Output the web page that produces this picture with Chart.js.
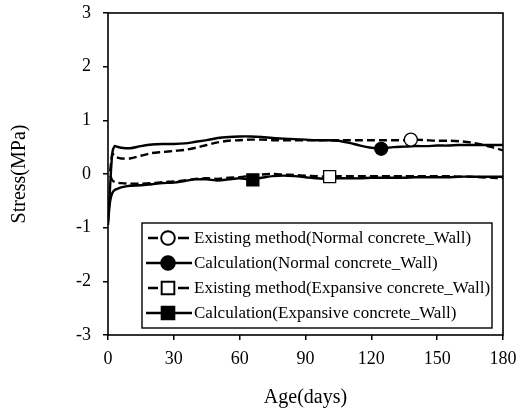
<!DOCTYPE html>
<html>
<head>
<meta charset="utf-8">
<script src="https://cdn.jsdelivr.net/npm/chart.js@4/dist/chart.umd.min.js"></script>
<style>
html,body{margin:0;padding:0;background:#fff;}
#wrap{width:520px;height:410px;}
</style>
</head>
<body>
<div id="wrap"><canvas id="c" width="520" height="410"></canvas></div>
<script>
const days = [0,1,2,3,4,6,10,15,20,25,30,35,40,45,50,55,60,65,70,75,80,85,90,95,100,105,110,115,120,125,130,135,140,145,150,155,160,165,170,175,180];
const normalCalc = [-0.95,-0.2,0.40,0.52,0.51,0.49,0.48,0.52,0.55,0.56,0.56,0.57,0.60,0.63,0.67,0.69,0.70,0.70,0.69,0.67,0.66,0.65,0.64,0.63,0.63,0.62,0.58,0.53,0.49,0.48,0.50,0.51,0.52,0.52,0.53,0.53,0.54,0.54,0.54,0.54,0.54];
const normalExisting = [null,0.05,0.38,0.33,0.31,0.29,0.29,0.34,0.39,0.41,0.43,0.45,0.49,0.54,0.59,0.62,0.63,0.64,0.64,0.63,0.63,0.63,0.63,0.63,0.63,0.63,0.63,0.63,0.63,0.63,0.63,0.63,0.64,0.63,0.62,0.62,0.61,0.59,0.55,0.50,0.44];
const expansiveCalc = [-0.90,-0.5,-0.35,-0.30,-0.28,-0.25,-0.22,-0.21,-0.19,-0.17,-0.16,-0.13,-0.10,-0.10,-0.12,-0.10,-0.08,-0.10,-0.07,-0.04,-0.03,-0.04,-0.06,-0.08,-0.09,-0.08,-0.08,-0.08,-0.07,-0.07,-0.07,-0.07,-0.06,-0.06,-0.06,-0.06,-0.05,-0.05,-0.05,-0.05,-0.05];
const expansiveExisting = [null,-0.03,-0.12,-0.15,-0.16,-0.17,-0.18,-0.18,-0.17,-0.15,-0.14,-0.12,-0.09,-0.08,-0.09,-0.07,-0.06,-0.03,-0.01,0.00,-0.01,-0.02,-0.03,-0.04,-0.05,-0.04,-0.04,-0.04,-0.04,-0.04,-0.04,-0.04,-0.04,-0.04,-0.04,-0.04,-0.05,-0.05,-0.06,-0.07,-0.08];
const markerDays = [138, 124.5, 101, 66];
const markerVals = [0.64, 0.47, -0.05, -0.11];
const seriesNames = ['Existing method(Normal concrete_Wall)','Calculation(Normal concrete_Wall)','Existing method(Expansive concrete_Wall)','Calculation(Expansive concrete_Wall)'];
const xTicks = [0,30,60,90,120,150,180];
const yTicks = [-3,-2,-1,0,1,2,3];

const seriesVals = [normalExisting, normalCalc, expansiveExisting, expansiveCalc];
const dashed = [true,false,true,false];
const mStyle = ['circle','circle','rect','rect'];
const mFill = ['#ffffff','#000000','#ffffff','#000000'];
const mRadius = [6.5,6.5,8.5,8.5];

const datasets = [];
seriesVals.forEach((vals,i)=>{
  datasets.push({
    label: seriesNames[i],
    data: days.map((d,j)=>({x:d,y:vals[j]})).filter(p=>p.y!==null),
    borderColor:'#000', borderWidth:2.4, borderDash: dashed[i]?[8,4]:[],
    pointRadius:0, tension:0.3, fill:false, order:2
  });
});
markerDays.forEach((d,i)=>{
  datasets.push({
    label: seriesNames[i]+' marker', type:'scatter',
    data:[{x:d,y:markerVals[i]}],
    pointStyle:mStyle[i], pointRadius:mRadius[i], pointBackgroundColor:mFill[i],
    pointBorderColor:'#000', pointBorderWidth:1.3, showLine:false, order:1
  });
});

const frame = {
  id:'frame',
  afterDatasetsDraw(chart){
    const {ctx, chartArea:a} = chart;
    ctx.save();
    ctx.strokeStyle='#000'; ctx.lineWidth=1.6;
    ctx.strokeRect(a.left, a.top, a.right-a.left, a.bottom-a.top);
    ctx.restore();
  }
};

const legendBox = {
  id:'legendBox',
  afterDraw(chart){
    const ctx = chart.ctx;
    const bx=142, by=223, bw=350, bh=105;
    ctx.save();
    ctx.fillStyle='#fff'; ctx.fillRect(bx,by,bw,bh);
    ctx.strokeStyle='#000'; ctx.lineWidth=1.4; ctx.strokeRect(bx,by,bw,bh);
    ctx.font='17px "Liberation Serif"';
    ctx.textBaseline='middle';
    for(let i=0;i<4;i++){
      const y = by + 15 + i*25;
      ctx.strokeStyle='#000'; ctx.lineWidth=2.6;
      ctx.beginPath();
      if(dashed[i]){
        ctx.moveTo(148,y); ctx.lineTo(158,y);
        ctx.moveTo(178,y); ctx.lineTo(189,y);
      } else {
        ctx.moveTo(146,y); ctx.lineTo(192,y);
      }
      ctx.stroke();
      Chart.helpers.drawPoint(ctx,{pointStyle:mStyle[i],radius:mRadius[i],borderWidth:1.3},168,y);
      ctx.fillStyle=mFill[i]; ctx.strokeStyle='#000'; ctx.lineWidth=1.3;
      ctx.fill(); ctx.stroke();
      ctx.fillStyle='#000';
      ctx.fillText(seriesNames[i], 194, y+1);
    }
    ctx.restore();
  }
};

new Chart(document.getElementById('c'), {
  type:'line',
  data:{datasets},
  options:{
    responsive:false, animation:false,
    layout:{padding:{left:0,right:17,top:13,bottom:0}},
    plugins:{legend:{display:false}, tooltip:{enabled:false}},
    scales:{
      x:{
        type:'linear', min:0, max:180,
        afterBuildTicks(s){ s.ticks = xTicks.map(v=>({value:v})); },
        afterFit(s){ s.height = 75; s.paddingLeft = 0; s.paddingRight = 0; },
        border:{display:false},
        grid:{drawOnChartArea:false, drawTicks:true, tickLength:5, color:'#000', lineWidth:1.5},
        ticks:{color:'#000', font:{family:'"Liberation Serif"', size:18}, padding:8, maxRotation:0},
        title:{display:true, text:'Age(days)', color:'#000', font:{family:'"Liberation Serif"', size:20}, padding:{top:0,bottom:0}}
      },
      y:{
        type:'linear', min:-3, max:3,
        afterBuildTicks(s){ s.ticks = yTicks.map(v=>({value:v})); },
        afterFit(s){ s.width = 108; s.paddingTop = 0; s.paddingBottom = 0; },
        border:{display:false},
        grid:{drawOnChartArea:false, drawTicks:true, tickLength:5, color:'#000', lineWidth:1.5},
        ticks:{color:'#000', font:{family:'"Liberation Serif"', size:18}, padding:12},
        title:{display:true, text:'Stress(MPa)', color:'#000', font:{family:'"Liberation Serif"', size:20}, padding:{top:8,bottom:0}}
      }
    }
  },
  plugins:[frame, legendBox]
});
</script>
</body>
</html>
